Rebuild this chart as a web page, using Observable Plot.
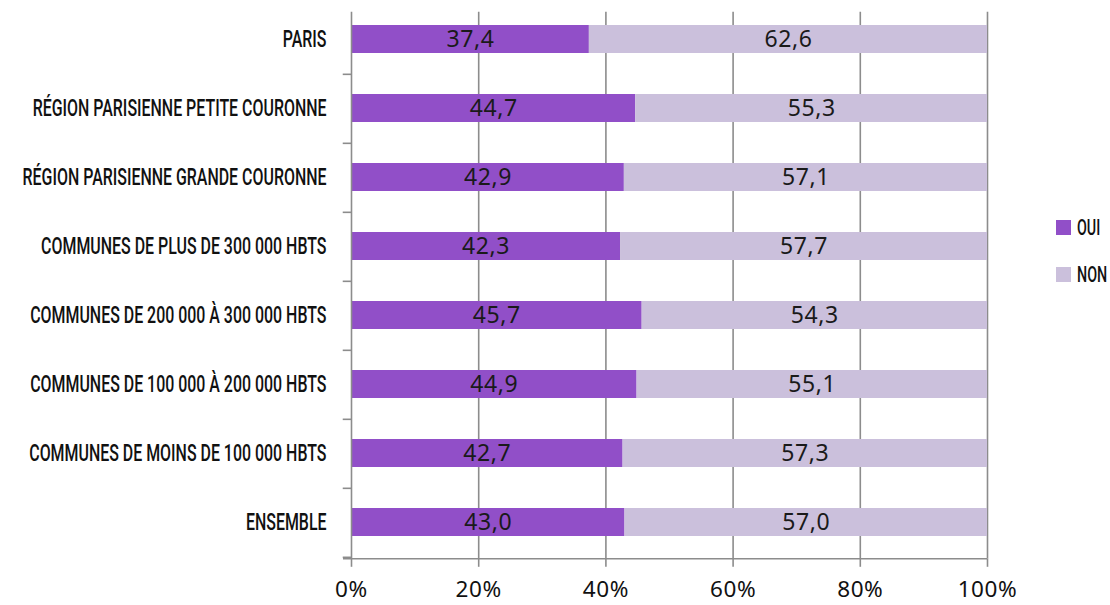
<!DOCTYPE html>
<html><head><meta charset="utf-8">
<script src="https://cdn.jsdelivr.net/npm/d3@7"></script>
<script src="https://cdn.jsdelivr.net/npm/@observablehq/plot@0.6"></script>
<style>
body{margin:0;background:#fff;}
#wrap{position:relative;width:1110px;height:605px;overflow:hidden;}
.legend{position:absolute;left:1056px;font-family:Roboto,sans-serif;font-weight:500;font-size:22px;color:#111;display:flex;align-items:center;white-space:nowrap;}
.legend span.sw{display:inline-block;width:15px;height:15px;margin-right:6px;}
.legend span.tx{display:inline-block;transform-origin:left center;}
</style></head>
<body><div id="wrap"></div>
<script>
const categories = ["PARIS","RÉGION PARISIENNE PETITE COURONNE","RÉGION PARISIENNE GRANDE COURONNE","COMMUNES DE PLUS DE 300 000 HBTS","COMMUNES DE 200 000 À 300 000 HBTS","COMMUNES DE 100 000 À 200 000 HBTS","COMMUNES DE MOINS DE 100 000 HBTS","ENSEMBLE"];
const oui = [37.4,44.7,42.9,42.3,45.7,44.9,42.7,43.0];
const non = [62.6,55.3,57.1,57.7,54.3,55.1,57.3,57.0];
const seriesNames = ["OUI","NON"];
const colors = ["#914fc8","#cbc0dc"];
const xTicks = [0,20,40,60,80,100];

const data = [];
categories.forEach((c,i)=>{
  data.push({cat:c, series:"OUI", value:oui[i]});
  data.push({cat:c, series:"NON", value:non[i]});
});
const fmt = v => v.toFixed(1).replace(".", ",");
const step = (558.8-1.7)/categories.length;

const chart = Plot.plot({
  width:1110, height:605,
  marginTop:1.7, marginBottom:46.2, marginLeft:351, marginRight:123,
  x:{domain:[0,100], label:null},
  y:{domain:categories, paddingInner:0.6, paddingOuter:0.3, label:null},
  color:{domain:seriesNames, range:colors},
  style:{fontFamily:"'Noto Sans', sans-serif", background:"#fff"},
  marks:[
    Plot.ruleX(xTicks.slice(1), {stroke:"#8c8c8c", strokeWidth:1.6, insetTop:10}),
    Plot.barX(data, Plot.stackX({x:"value", y:"cat", fill:"series", order:seriesNames})),
    Plot.textX(data, Plot.stackX({x:"value", y:"cat", z:"series", order:seriesNames, text:d=>fmt(d.value), fontSize:23, fill:"#1a1a1a", className:"vals"})),
    Plot.ruleX([0], {stroke:"#8c8c8c", strokeWidth:1.6, insetTop:10}),
    Plot.ruleY(categories, {y:d=>d, x1:-1.3, x2:0, dy:step/2, stroke:"#8c8c8c", strokeWidth:1.6}),
    Plot.axisX({ticks:xTicks, tickFormat:d=>d+"%", tickSize:8, tickPadding:14, fontSize:22.5, stroke:"#8c8c8c", strokeWidth:1.6, color:"#111", strokeOpacity:1, label:null, className:"xax"}),
    Plot.axisY({tickSize:0, tickPadding:25, fontSize:24.5, fontFamily:"Roboto, sans-serif", fontWeight:500, color:"#111", label:null, className:"yax"})
  ]
});
document.getElementById("wrap").appendChild(chart);
const svg = d3.select(chart);
svg.selectAll(".vals text").style("letter-spacing","0.6px");
svg.selectAll(".xax text").style("letter-spacing","0.6px");
// bottom axis line
const xs = chart.scale("x");
svg.append("line").attr("x1", xs.apply(0)-8).attr("x2", xs.apply(100)).attr("y1",558.8).attr("y2",558.8).attr("stroke","#8c8c8c").attr("stroke-width",1.6);

// condense the category labels horizontally
const ytexts = svg.selectAll(".yax text").nodes();
let ref = ytexts.find(t => t.textContent === categories[1]);
const sx = ref ? 294 / ref.getComputedTextLength() : 0.62;
ytexts.forEach(t => {
  const tr = t.getAttribute("transform");
  const x = +(t.getAttribute("x") || 0);
  if (tr) t.setAttribute("transform", tr + ` translate(${x},0) scale(${sx},1) translate(${-x},0)`);
  else t.setAttribute("transform", `translate(${x},0) scale(${sx},1) translate(${-x},0)`);
});

const lg = [["OUI",colors[0],228],["NON",colors[1],275]];
lg.forEach(([t,c,y])=>{
  const d = document.createElement("div");
  d.className="legend"; d.style.top=(y-13)+"px";
  d.innerHTML=`<span class="sw" style="background:${c}"></span><span class="tx" style="transform:scaleX(${sx})">${t}</span>`;
  document.getElementById("wrap").appendChild(d);
});
</script></body></html>
